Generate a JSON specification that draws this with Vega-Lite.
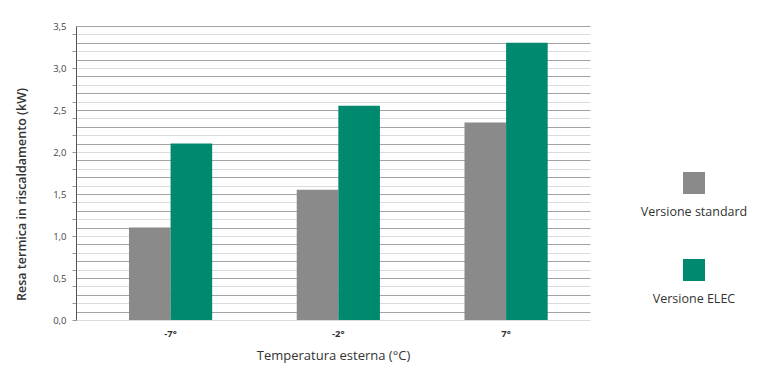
{
  "$schema": "https://vega.github.io/schema/vega-lite/v6.json",
  "autosize": {"type": "none"},
  "width": 514,
  "height": 294,
  "padding": {"left": 76, "top": 26, "right": 170, "bottom": 55},
  "background": "white",
  "config": {
    "view": {"stroke": null},
    "font": "Open Sans"
  },
  "data": {
    "values": [
      {"temp": "-7°", "version": "Versione standard", "value": 1.1},
      {"temp": "-7°", "version": "Versione ELEC", "value": 2.1},
      {"temp": "-2°", "version": "Versione standard", "value": 1.55},
      {"temp": "-2°", "version": "Versione ELEC", "value": 2.55},
      {"temp": "7°", "version": "Versione standard", "value": 2.35},
      {"temp": "7°", "version": "Versione ELEC", "value": 3.3}
    ]
  },
  "mark": {"type": "bar"},
  "encoding": {
    "x": {
      "field": "temp",
      "type": "nominal",
      "sort": ["-7°", "-2°", "7°"],
      "scale": {"paddingInner": 0.504, "paddingOuter": 0.284, "align": 0.556},
      "axis": {
        "title": "Temperatura esterna (°C)",
        "titleFont": "Open Sans",
        "titleFontSize": 13,
        "titleFontWeight": "normal",
        "titleColor": "#333333",
        "titlePadding": 12,
        "labelAngle": 0,
        "labelFont": "Open Sans",
        "labelFontSize": 9.5,
        "labelFontWeight": "bold",
        "labelColor": "#333333",
        "labelPadding": 8,
        "ticks": false,
        "domain": false,
        "grid": false
      }
    },
    "xOffset": {
      "field": "version",
      "type": "nominal",
      "sort": ["Versione standard", "Versione ELEC"],
      "scale": {"paddingInner": 0, "paddingOuter": 0}
    },
    "y": {
      "field": "value",
      "type": "quantitative",
      "scale": {"domain": [0, 3.5], "nice": false, "zero": true},
      "axis": {
        "title": "Resa termica in riscaldamento (kW)",
        "titleFont": "Open Sans",
        "titleFontSize": 12.5,
        "titleFontWeight": 600,
        "titleColor": "#333333",
        "titlePadding": 24,
        "titleY": 168,
        "values": [0, 0.1, 0.2, 0.3, 0.4, 0.5, 0.6, 0.7, 0.8, 0.9, 1, 1.1, 1.2, 1.3, 1.4, 1.5, 1.6, 1.7, 1.8, 1.9, 2, 2.1, 2.2, 2.3, 2.4, 2.5, 2.6, 2.7, 2.8, 2.9, 3, 3.1, 3.2, 3.3, 3.4, 3.5],
        "labelExpr": "round(datum.value*10) % 5 == 0 ? replace(format(datum.value, '.1f'), '.', ',') : ''",
        "labelFont": "Open Sans",
        "labelFontSize": 9.5,
        "labelColor": "#444444",
        "labelPadding": 6,
        "tickSize": 4,
        "tickColor": "#999999",
        "tickOpacity": {"condition": {"test": "round(datum.value*10) % 2 == 0", "value": 1}, "value": 0},
        "domainColor": "#555555",
        "grid": true,
        "gridColor": {"condition": {"test": "round(datum.value*10) % 2 == 0", "value": "#dcdcdc"}, "value": "#a3a3a3"},
        "gridWidth": 1
      }
    },
    "color": {
      "field": "version",
      "type": "nominal",
      "sort": ["Versione standard", "Versione ELEC"],
      "scale": {"domain": ["Versione standard", "Versione ELEC"], "range": ["#8a8a8a", "#00896e"]},
      "legend": {
        "title": null,
        "orient": "none",
        "legendX": 607,
        "legendY": 146,
        "symbolType": "square",
        "symbolSize": 484,
        "symbolStrokeWidth": 0,
        "symbolOpacity": 1,
        "labelFont": "Open Sans",
        "labelFontSize": 12.5,
        "labelColor": "#333333",
        "labelAlign": "center",
        "labelOffset": -11,
        "rowPadding": 40,
        "encode": {
          "labels": {"update": {"dy": {"value": 29}}}
        }
      }
    }
  }
}
